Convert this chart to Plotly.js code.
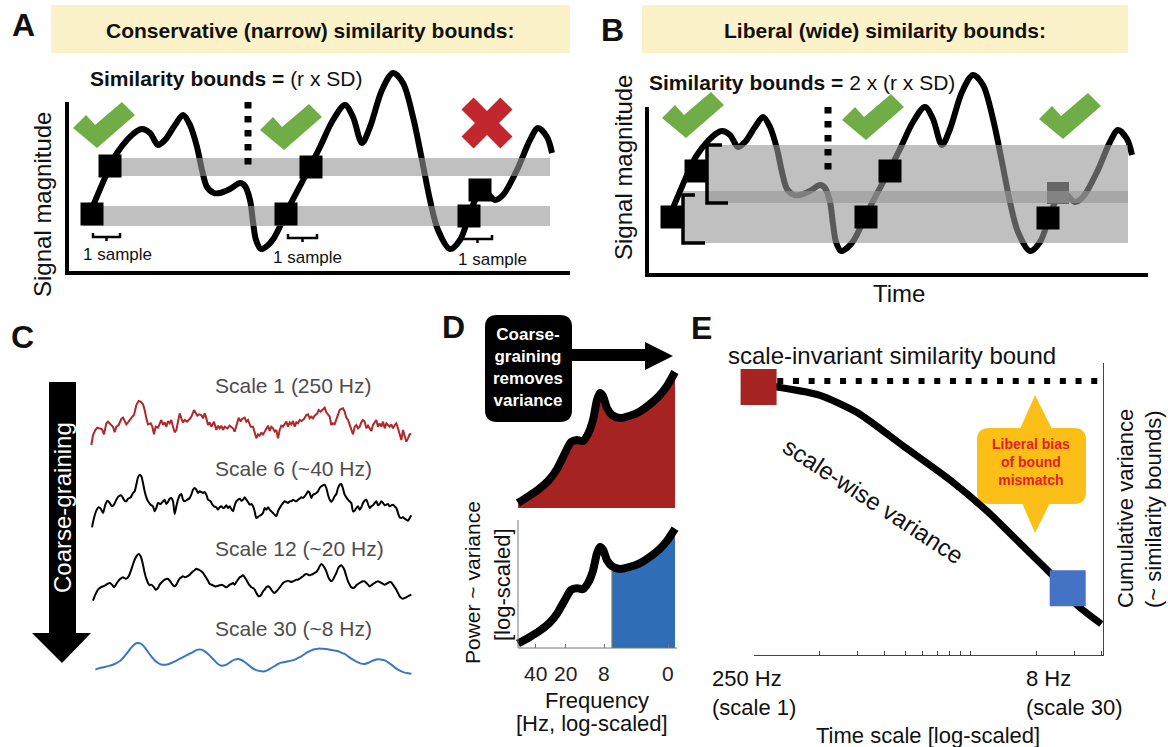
<!DOCTYPE html>
<html><head><meta charset="utf-8">
<script src="https://cdn.plot.ly/plotly-3.0.1.min.js"></script>
<style>html,body{margin:0;padding:0;background:#fff}#chart{width:1168px;height:747px}</style>
</head><body><div id="chart"></div><script>
const W = 1168, H = 747;
const FONT = 'Liberation Sans, Arial, Helvetica, sans-serif';

// ---------- Panels A/B: illustrative signal (time, magnitude) ----------
const signalT = [23,45,50,60,70,75,83,91,98,108,116,123,130,135,140,147,153,163,173,178,183,186,189,194,200,207,216,223,243,253,266,278,286,295,303,315,326,336,346,355,363,371,383,393,403,410,418,428,436,450,463,471,480,485];
const signalM = [60,111,120,133,142,144,140,128,133,148,158,148,126,103,86,80,80,84,90,87,73,51,33,24,27,35,53,68,106,126,153,168,156,130,146,183,200,190,156,113,73,43,24,33,60,76,81,73,78,103,133,145,136,120];
// sampled template points
const sqA_t = [43,25,244,219,413,402];
const sqA_m = [107,59,106,59,83,57];
const sqB_t = [49,25,243,219,401];
const sqB_m = [104,58,104,58,57];
const sqBgray_t = [411];
const sqBgray_m = [82];
// similarity bounds (start, end, low, high)
const bandA_start = [33,16], bandA_end = [483,483], bandA_lo = [97,47], bandA_hi = [115,67];
const bandB_start = [60,36], bandB_end = [481,481], bandB_lo = [72,32], bandB_hi = [130,84];

// ---------- Panel C: coarse-grained signals ----------
const c1T = [10,15,22,28,35,42,48,55,60,68,75,80,85,92,100,105,110,115,120,128,133,138,145,152,158,165,170,175,180,188,193,198,203,210,215,220,225,230,235,240,245,250,255,260,265,270,275,280,285,290,297,305,310,318,322,328,333,340,345,350,355,360,365,370,378,385,390,395,400,405,410,418,425,430,435,440,448,452,458,462,470,475,480,488,495,500,505,510,515,520,525,530,535,540,545,550,555,560,565,570,575,580,585,590,595,600,605,610,615,620,625,630,635,640,648,655,660,665,670,675,680,688,692,698,705,710,715,720,725,730,735,740,745,750,755,760,765,770,775,780,785,790,795,800,805,810,815,820,825,830,835,840,845,850,855,860,865,870,875,880,885,890,895,900,905,910,915,920,925,930,935,940,945,950,955,960,965,970];
const c1V = [6,36,51,58,56,53,38,71,76,68,61,44,61,66,84,88,76,68,74,86,91,96,126,138,136,128,111,86,68,71,61,38,61,58,71,81,66,74,61,78,71,81,61,44,51,76,101,86,74,81,76,84,91,111,104,94,98,96,86,101,86,66,74,61,76,51,64,56,64,51,61,56,64,61,56,46,76,88,76,84,88,76,81,61,61,46,26,38,34,44,36,46,54,64,48,61,56,46,51,26,51,64,61,71,76,61,74,68,78,61,74,71,81,78,84,96,98,86,91,86,94,101,111,106,114,118,104,98,91,66,71,68,84,101,111,114,116,106,88,81,66,46,38,61,66,56,61,74,81,76,56,64,56,48,66,74,81,61,71,61,76,56,71,66,61,68,56,66,71,56,41,21,51,31,16,26,38,38];
const c6T = [12,18,25,32,38,45,52,58,65,72,78,85,92,100,105,110,115,120,128,135,140,145,150,155,160,165,170,175,180,188,195,200,205,210,218,225,230,235,240,245,250,255,260,265,270,275,280,285,290,298,305,310,315,320,325,330,335,340,345,350,355,360,368,372,378,385,390,395,400,405,410,415,420,425,428,435,440,445,450,455,460,465,470,475,480,485,490,495,500,505,512,520,525,530,535,540,545,550,555,560,565,570,575,580,585,590,595,600,605,610,615,620,625,630,635,640,645,650,655,660,665,670,675,680,685,690,695,700,705,710,715,720,725,730,735,740,745,750,755,760,765,770,775,780,785,790,795,800,805,810,815,820,825,830,835,840,845,850,855,860,865,870,875,880,885,890,895,900,905,910,915,920,925,930,935,940,945,950,955,960,965,970];
const c6V = [20,48,70,80,76,63,88,100,93,83,88,103,113,116,108,100,98,106,110,123,128,148,170,178,173,153,128,110,98,88,83,68,78,93,90,98,103,90,96,106,108,98,60,83,103,116,120,103,98,103,108,118,133,138,133,123,128,126,123,126,118,103,98,90,83,80,73,80,83,78,80,86,78,83,78,68,86,98,103,106,100,103,110,103,96,88,90,83,68,48,53,58,63,78,73,80,73,68,63,58,53,68,78,86,93,98,96,93,98,98,103,100,98,103,106,110,108,113,120,128,123,108,118,120,123,128,138,143,146,148,138,118,103,96,103,113,120,138,148,150,136,118,110,103,98,93,68,70,78,83,73,80,93,100,103,90,78,83,86,93,98,86,90,98,93,86,88,90,83,86,88,83,78,63,50,48,50,46,43,40,48,56];
const c12T = [15,22,30,38,45,52,58,65,72,78,85,90,98,105,112,118,122,128,133,138,145,152,158,165,170,175,180,185,190,198,203,210,215,222,230,238,243,250,255,260,265,270,275,280,285,292,298,305,310,318,325,332,340,345,350,355,360,365,370,375,380,385,395,400,405,410,415,420,425,430,435,440,445,450,455,460,465,470,475,480,485,490,495,500,505,510,515,520,525,530,535,540,545,550,555,560,565,570,575,580,585,590,595,600,605,610,615,620,625,630,635,640,645,650,655,660,665,670,675,680,685,690,695,700,705,710,715,720,725,730,735,740,745,750,755,760,765,770,775,780,785,790,795,800,805,810,815,820,825,830,835,840,845,850,855,860,865,870,875,880,885,890,895,900,905,910,915,920,925,930,935,940,945,950,955,960,965,970];
const c12V = [2,20,35,42,45,48,52,55,50,42,52,60,68,72,68,70,75,90,105,120,135,142,135,110,85,68,55,48,50,42,35,40,50,58,65,68,65,55,48,45,50,60,68,72,75,72,75,80,85,92,98,95,90,85,78,70,62,52,50,48,45,45,48,50,48,45,42,45,50,52,55,50,58,65,72,75,78,72,65,55,48,42,40,35,25,17,15,20,30,35,42,45,42,35,28,25,30,35,42,48,55,58,60,62,60,58,60,62,65,65,68,72,75,80,82,80,78,80,82,85,88,95,105,112,108,100,90,75,65,60,65,75,85,98,105,108,102,92,75,60,50,42,40,42,48,52,55,58,60,60,55,50,45,48,52,55,58,60,58,55,52,50,52,55,58,57,50,42,35,25,15,10,8,10,12,15,18,20];
const c30T = [22,35,50,65,80,95,105,115,125,135,145,152,160,170,180,190,200,210,222,235,250,265,280,295,310,322,330,340,350,360,370,380,390,400,410,420,430,440,450,460,470,480,490,500,510,520,530,540,550,560,570,580,590,600,610,620,630,640,650,660,670,680,690,700,710,720,730,740,750,760,770,780,790,800,810,820,830,840,850,860,870,880,890,900,910,920,930,940,950,960,970];
const c30V = [25,30,33,37,42,50,60,72,85,97,104,105,102,92,78,65,53,45,40,40,45,52,60,68,75,82,85,85,80,72,62,52,42,37,38,43,50,55,57,54,48,40,32,26,22,20,20,24,30,36,42,46,48,50,52,55,60,65,72,78,83,86,88,88,87,86,84,82,80,76,72,65,58,52,47,43,42,45,50,54,56,55,53,47,40,32,25,20,16,14,13];
const cLabels = ['Scale 1 (250 Hz)','Scale 6 (~40 Hz)','Scale 12 (~20 Hz)','Scale 30 (~8 Hz)'];

// ---------- Panel D: power spectrum ----------
const dFreqPos = [1,12,22,32,40,48,54,60,66,71,76,80,83,86,90,95,103,112,122,132,142,150,158];
const dPower   = [5,12,19,28,39,55,66,68,67,74,88,108,115,112,100,93,90,92,96,103,112,122,136];
const dCut = 95;
const dTickPos = [18,48,87,151];
const dTickText = ['40','20','8','0'];

// ---------- Panel E: scale-wise variance ----------
const eScale = [1,2,3,5,8,12,17,24,31,40];
const eVar   = [93,89,83,71,60,49,38,27,17,10.6];
const eBoundScale = [1.28,40.7];
const eBoundVar = [93.8,93.8];
const eSqScale = [1.05,28];
const eSqVar = [91.8,22.9];
const eSqColor = ['#A62422','#4472C4'];
const eTicks = [1,2,3,4,5,6,7,8,9,10,20,30,40];
const eTickLabels = ['250 Hz<br>(scale 1)','8 Hz<br>(scale 30)'];
const eTickLabelScale = [1,30];

// ---------- helpers ----------
const dxp = (a,b)=>[a/W,b/W];
const dyp = (top,bottom)=>[1-bottom/H,1-top/H];
const hid = {visible:false, fixedrange:true};

function band(t0,t1,lo,hi,xa,ya){
  return {x:[t0,t1,t1,t0],y:[lo,lo,hi,hi],fill:'toself',fillcolor:'rgba(150,150,150,0.6)',mode:'none',xaxis:xa,yaxis:ya,hoverinfo:'skip'};
}

const traces = [];
traces.push({x:[],y:[],xaxis:'x',yaxis:'y',mode:'markers',hoverinfo:'skip'});
// A
traces.push({x:signalT,y:signalM,mode:'lines',line:{color:'#000',width:6,shape:'spline',smoothing:0.9},xaxis:'x2',yaxis:'y2'});
for(let i=0;i<2;i++) traces.push(band(bandA_start[i],bandA_end[i],bandA_lo[i],bandA_hi[i],'x2','y2'));
traces.push({x:sqA_t,y:sqA_m,mode:'markers',marker:{symbol:'square',size:23,color:'#000'},xaxis:'x2',yaxis:'y2',cliponaxis:false});
// B
traces.push({x:signalT,y:signalM,mode:'lines',line:{color:'#000',width:6,shape:'spline',smoothing:0.9},xaxis:'x3',yaxis:'y3'});
traces.push({x:sqBgray_t,y:sqBgray_m,mode:'markers',marker:{symbol:'square',size:22,color:'#222'},xaxis:'x3',yaxis:'y3',cliponaxis:false});
for(let i=0;i<2;i++) traces.push(band(bandB_start[i],bandB_end[i],bandB_lo[i],bandB_hi[i],'x3','y3'));
traces.push({x:sqB_t,y:sqB_m,mode:'markers',marker:{symbol:'square',size:23,color:'#000'},xaxis:'x3',yaxis:'y3',cliponaxis:false});
// C
traces.push({x:c1T,y:c1V,mode:'lines',line:{color:'#B0282A',width:2},xaxis:'x7',yaxis:'y7'});
traces.push({x:c6T,y:c6V,mode:'lines',line:{color:'#000',width:2,shape:'spline',smoothing:0.6},xaxis:'x7',yaxis:'y8'});
traces.push({x:c12T,y:c12V,mode:'lines',line:{color:'#000',width:2,shape:'spline',smoothing:0.6},xaxis:'x7',yaxis:'y9'});
traces.push({x:c30T,y:c30V,mode:'lines',line:{color:'#3A76C4',width:2,shape:'spline'},xaxis:'x7',yaxis:'y10'});
// D
traces.push({x:dFreqPos,y:dPower,mode:'lines',fill:'tozeroy',fillcolor:'#A52422',line:{color:'#000',width:8,shape:'spline',smoothing:0.7},xaxis:'x4',yaxis:'y4'});
const ci = dFreqPos.indexOf(dCut);
traces.push({x:dFreqPos.slice(ci),y:dPower.slice(ci),mode:'none',fill:'tozeroy',fillcolor:'#2F6EB7',line:{shape:'spline',smoothing:0.7},xaxis:'x5',yaxis:'y5'});
traces.push({x:[dCut,dCut],y:[0,dPower[ci]],mode:'lines',line:{color:'#777',width:1.2},xaxis:'x5',yaxis:'y5'});
traces.push({x:dFreqPos,y:dPower,mode:'lines',line:{color:'#000',width:8,shape:'spline',smoothing:0.7},xaxis:'x5',yaxis:'y5'});
// E
traces.push({x:eBoundScale,y:eBoundVar,mode:'lines',line:{color:'#000',width:6,dash:'6px,9.7px'},xaxis:'x6',yaxis:'y6'});
traces.push({x:eScale,y:eVar,mode:'lines',line:{color:'#000',width:7,shape:'spline',smoothing:0.6},xaxis:'x6',yaxis:'y6'});
traces.push({x:eSqScale,y:eSqVar,mode:'markers',marker:{symbol:'square',size:36,color:eSqColor},xaxis:'x6',yaxis:'y6',cliponaxis:false});

// ---------- decorative shapes (pixel space) ----------
function rr(x0,y0,x1,y1,r){
  return `M${x0+r},${y0} L${x1-r},${y0} Q${x1},${y0} ${x1},${y0+r} L${x1},${y1-r} Q${x1},${y1} ${x1-r},${y1} L${x0+r},${y1} Q${x0},${y1} ${x0},${y1-r} L${x0},${y0+r} Q${x0},${y0} ${x0+r},${y0} Z`;
}
const ckBase = [[73,128],[86,115],[95,125],[122,102],[135,115],[97,148]];
function ck(dx,dy){ return 'M'+ckBase.map(p=>(p[0]+dx)+','+(p[1]+dy)).join(' L')+' Z'; }
const px = (o)=>Object.assign({xref:'x',yref:'y'},o);
const shapes = [
  px({type:'rect',x0:51,y0:5,x1:570,y1:53,fillcolor:'#FCF2CA',line:{width:0},layer:'below'}),
  px({type:'rect',x0:642,y0:5,x1:1128,y1:53,fillcolor:'#FCF2CA',line:{width:0},layer:'below'}),
  px({type:'path',path:'M67,102 V273 H570',line:{color:'#000',width:4}}),
  px({type:'path',path:'M647,107 V275 H1148',line:{color:'#000',width:4}}),
  px({type:'line',x0:248,y0:102,x1:248,y1:165,line:{color:'#000',width:7,dash:'6.5px,7.5px'}}),
  px({type:'line',x0:828,y0:107,x1:828,y1:170,line:{color:'#000',width:7,dash:'6.5px,7.5px'}}),
  px({type:'path',path:ck(0,0),fillcolor:'#70AD47',line:{width:0}}),
  px({type:'path',path:ck(187,2),fillcolor:'#70AD47',line:{width:0}}),
  px({type:'path',path:ck(589,-10),fillcolor:'#70AD47',line:{width:0}}),
  px({type:'path',path:ck(769,-8),fillcolor:'#70AD47',line:{width:0}}),
  px({type:'path',path:ck(966,-9),fillcolor:'#70AD47',line:{width:0}}),
  px({type:'path',path:'M500.4,97.5 L512.5,109.6 L499,123 L512.5,136.4 L500.4,148.5 L487,135 L473.6,148.5 L461.5,136.4 L475,123 L461.5,109.6 L473.6,97.5 L487,111 Z',fillcolor:'#C1272D',line:{width:0}}),
  px({type:'path',path:'M93,233 V237 H120 V233 M106.5,237 V241',line:{color:'#000',width:2.5}}),
  px({type:'path',path:'M288,234 V238 H317 V234 M302.5,238 V242',line:{color:'#000',width:2.5}}),
  px({type:'path',path:'M463,235 V239 H492 V235 M477.5,239 V243',line:{color:'#000',width:2.5}}),
  px({type:'path',path:'M722,145 H707 V203 H728',line:{color:'#000',width:3.5}}),
  px({type:'path',path:'M695,195 H683 V243 H705',line:{color:'#000',width:3.5}}),
  // C arrow
  px({type:'rect',x0:49,y0:382,x1:76,y1:634,fillcolor:'#000',line:{width:0}}),
  px({type:'path',path:'M32,633 L91,633 L62,663 Z',fillcolor:'#000',line:{width:0}}),
  // D box + arrow
  px({type:'path',path:rr(485,315,572,422,12),fillcolor:'#000',line:{width:0}}),
  px({type:'rect',x0:572,y0:349,x1:647,y1:361,fillcolor:'#000',line:{width:0}}),
  px({type:'path',path:'M645,342 L673,356 L645,370 Z',fillcolor:'#000',line:{width:0}}),
  px({type:'path',path:'M518,520 V648 H677',line:{color:'#777',width:1}}),
  // E callout
  px({type:'path',path:rr(977,428,1086,504,12),fillcolor:'#FBBF17',line:{width:0},layer:'below'}),
  px({type:'path',path:'M1020,429 L1035,395 L1052,429 Z',fillcolor:'#FBBF17',line:{width:0},layer:'below'}),
  px({type:'path',path:'M1022,503 L1035,533 L1050,503 Z',fillcolor:'#FBBF17',line:{width:0},layer:'below'})
];

// ---------- text ----------
function t(text,x,y,size,o){
  return Object.assign({text:text,x:x,y:y,xref:'x',yref:'y',showarrow:false,xanchor:'center',yanchor:'middle',font:{family:FONT,size:size,color:'#111'}},o||{});
}
const annotations = [
  t('<b>A</b>',23,25,32), t('<b>B</b>',612,30,32), t('<b>C</b>',22,337,32), t('<b>D</b>',453,327,32), t('<b>E</b>',701,328,32),
  t('<b>Conservative (narrow) similarity bounds:</b>',310,30,21),
  t('<b>Liberal (wide) similarity bounds:</b>',885,30,21),
  t('<b>Similarity bounds =</b> (r x SD)',88,78,21,{xanchor:'left'}),
  t('<b>Similarity bounds =</b> 2 x (r x SD)',647,82,21,{xanchor:'left'}),
  t('Signal magnitude',42,205,24,{textangle:-90}),
  t('Signal magnitude',623,168,24,{textangle:-90}),
  t('1 sample',117.5,254,17), t('1 sample',307,257,17), t('1 sample',492,259,17),
  t('Time',899,293,24),
  t('Coarse-graining',62,508,24,{textangle:-90,font:{family:FONT,size:24,color:'#fff'}}),
  t(cLabels[0],213,385,21,{xanchor:'left',font:{family:FONT,size:21,color:'#4d4d4d'}}),
  t(cLabels[1],213,468,21,{xanchor:'left',font:{family:FONT,size:21,color:'#4d4d4d'}}),
  t(cLabels[2],213,548,21,{xanchor:'left',font:{family:FONT,size:21,color:'#4d4d4d'}}),
  t(cLabels[3],213,628,21,{xanchor:'left',font:{family:FONT,size:21,color:'#4d4d4d'}}),
  t('<b>Coarse-<br>graining<br>removes<br>variance</b>',528,367,17,{font:{family:FONT,size:17,color:'#fff'}}),
  t('Power ~ variance',472,583,21,{textangle:-90}),
  t('[log-scaled]',502,585,22,{textangle:-90}),
  t('Frequency',597,700,22),
  t('[Hz, log-scaled]',592,723,22),
  t('scale-invariant similarity bound',726,355,24,{xanchor:'left'}),
  t('scale-wise variance',873,500,24,{textangle:33}),
  t('<b>Liberal bias<br>of bound<br>mismatch</b>',1031,462,14,{font:{family:FONT,size:14,color:'#E31E24'}}),
  t(eTickLabels[0],Math.log10(eTickLabelScale[0]),693,22,{xref:'x6',align:'left'}),
  t(eTickLabels[1],Math.log10(eTickLabelScale[1]),693,22,{xref:'x6',align:'left'}),
  t('Time scale [log-scaled]',928,735,22),
  t('Cumulative variance',1125,509,22,{textangle:-90}),
  t('(~ similarity bounds)',1153,510,22,{textangle:-90})
];
// D frequency tick labels
dTickPos.forEach((p,i)=>annotations.push(t(dTickText[i],p,673,21,{xref:'x5',font:{family:FONT,size:21,color:'#222'}})));

const layout = {
  width:W, height:H, autosize:false, margin:{l:0,r:0,t:0,b:0,pad:0},
  paper_bgcolor:'#fff', plot_bgcolor:'rgba(0,0,0,0)', showlegend:false,
  font:{family:FONT,color:'#111'},
  xaxis:Object.assign({domain:[0,1],range:[0,W],anchor:'y'},hid),
  yaxis:Object.assign({domain:[0,1],range:[H,0],anchor:'x'},hid),
  xaxis2:Object.assign({domain:dxp(67,567),range:[0,500],anchor:'y2'},hid),
  yaxis2:Object.assign({domain:dyp(53,273),range:[0,220],anchor:'x2'},hid),
  xaxis3:Object.assign({domain:dxp(647,1147),range:[0,500],anchor:'y3'},hid),
  yaxis3:Object.assign({domain:dyp(55,275),range:[0,220],anchor:'x3'},hid),
  xaxis4:Object.assign({domain:dxp(511,683),range:[-6,166],anchor:'y4'},hid),
  yaxis4:Object.assign({domain:dyp(360,516),range:[-8,148],anchor:'x4'},hid),
  xaxis5:{domain:dxp(511,683),range:[-6,166],anchor:'free',position:1-648/H,showline:false,showgrid:false,zeroline:false,
          ticks:'inside',ticklen:4,tickcolor:'#777',tickvals:dTickPos,showticklabels:false,fixedrange:true},
  yaxis5:Object.assign({domain:dyp(518,655),range:[-8,148],anchor:'x5'},hid),
  xaxis6:{domain:dxp(754,1103),type:'log',range:[0,1.61],anchor:'y6',showline:true,linecolor:'#444',linewidth:1,
          ticks:'inside',ticklen:4,tickcolor:'#444',tickvals:eTicks,showticklabels:false,showgrid:false,zeroline:false,fixedrange:true},
  yaxis6:{domain:dyp(363,655),range:[0,100],anchor:'x6',side:'right',showline:true,linecolor:'#444',linewidth:1,
          ticks:'',showticklabels:false,showgrid:false,zeroline:false,fixedrange:true},
  xaxis7:Object.assign({domain:dxp(88,418),range:[0,990],anchor:'y7'},hid),
  yaxis7:Object.assign({domain:dyp(392,450),range:[-9,165],anchor:'x7'},hid),
  yaxis8:Object.assign({domain:dyp(465,537),range:[-9,207],anchor:'x7'},hid),
  yaxis9:Object.assign({domain:dyp(545,604.3),range:[-9,169],anchor:'x7'},hid),
  yaxis10:Object.assign({domain:dyp(638.3,681),range:[-9,119],anchor:'x7'},hid),
  shapes:shapes,
  annotations:annotations
};
Plotly.newPlot('chart',traces,layout,{staticPlot:true,displayModeBar:false});
</script></body></html>
